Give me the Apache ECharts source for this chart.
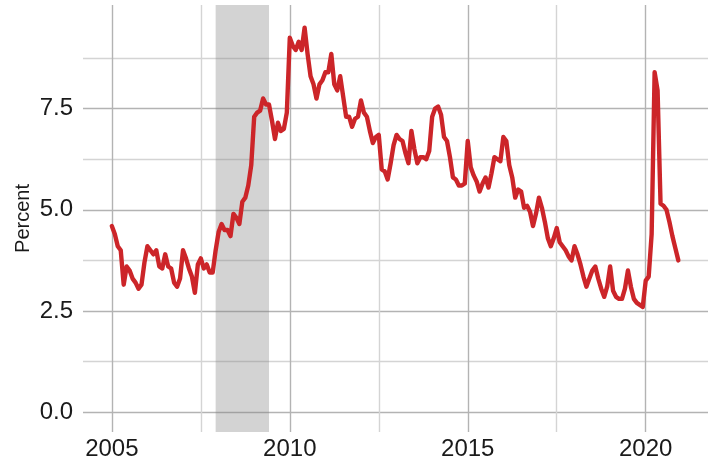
<!DOCTYPE html>
<html>
<head>
<meta charset="utf-8">
<script src="https://cdn.jsdelivr.net/npm/echarts@6/dist/echarts.min.js"></script>
<style>
  html, body { margin: 0; padding: 0; background: #fff; }
  #chart { width: 715px; height: 469px; }
</style>
</head>
<body>
<div id="chart"></div>
<script>
// monthly values, Jan 2005 .. Dec 2020
const startYear = 2005;
const rates = [
  4.6, 4.4, 4.1, 4.0, 3.15, 3.6, 3.5, 3.3, 3.2, 3.05, 3.15, 3.7,      // 2005
  4.1, 4.0, 3.9, 4.0, 3.6, 3.55, 3.9, 3.6, 3.55, 3.2, 3.1, 3.3,       // 2006
  4.0, 3.8, 3.55, 3.35, 2.95, 3.65, 3.8, 3.55, 3.65, 3.45, 3.45, 4.0, // 2007
  4.45, 4.65, 4.5, 4.5, 4.35, 4.9, 4.8, 4.65, 5.2, 5.3, 5.6, 6.1,     // 2008
  7.3, 7.4, 7.45, 7.75, 7.6, 7.6, 7.2, 6.75, 7.15, 6.95, 7.0, 7.4,    // 2009
  9.25, 9.05, 8.95, 9.15, 8.95, 9.5, 8.85, 8.3, 8.1, 7.75, 8.1, 8.2,  // 2010
  8.4, 8.4, 8.85, 8.1, 7.95, 8.3, 7.8, 7.3, 7.3, 7.05, 7.25, 7.3,     // 2011
  7.7, 7.4, 7.3, 6.95, 6.65, 6.8, 6.85, 6.0, 5.95, 5.75, 6.15, 6.6,   // 2012
  6.85, 6.75, 6.7, 6.4, 6.15, 6.95, 6.5, 6.15, 6.3, 6.3, 6.25, 6.45,  // 2013
  7.3, 7.5, 7.55, 7.35, 6.8, 6.7, 6.3, 5.8, 5.75, 5.6, 5.6, 5.65,     // 2014
  6.7, 6.05, 5.85, 5.7, 5.45, 5.65, 5.8, 5.55, 5.9, 6.3, 6.25, 6.2,   // 2015
  6.8, 6.7, 6.1, 5.8, 5.3, 5.5, 5.45, 5.05, 5.1, 4.95, 4.6, 4.9,      // 2016
  5.3, 5.05, 4.7, 4.3, 4.1, 4.3, 4.55, 4.2, 4.1, 4.0, 3.85, 3.75,     // 2017
  4.1, 3.9, 3.65, 3.35, 3.1, 3.3, 3.5, 3.6, 3.3, 3.05, 2.85, 3.1,     // 2018
  3.6, 3.0, 2.85, 2.8, 2.8, 3.05, 3.5, 3.1, 2.8, 2.7, 2.65, 2.6,      // 2019
  3.25, 3.35, 4.4, 8.4, 7.95, 5.15, 5.1, 5.0, 4.7, 4.35, 4.05, 3.75   // 2020
];
const recession = [2007 + 11 / 12, 2009 + 5 / 12]; // Dec 2007 - Jun 2009
const xMajorTicks = [2005, 2010, 2015, 2020];
const xMinorTicks = [2007.5, 2012.5, 2017.5];
const yMajorTicks = [0, 2.5, 5, 7.5];
const yMinorTicks = [1.25, 3.75, 6.25, 8.75];

const points = rates.map((v, i) => [startYear + i / 12, v]);

const chart = echarts.init(document.getElementById('chart'), null, { renderer: 'canvas' });
const font = 'Liberation Sans, Arial, sans-serif';
const xMin = 2004.19, xMax = 2021.75;
const yMin = -0.49, yMax = 10.06;

const option = {
  animation: false,
  grid: { left: 83, right: 7, top: 5, bottom: 37 },
  xAxis: [
    {
      type: 'value', min: xMin, max: xMax, position: 'bottom',
      axisLine: { show: false },
      axisTick: { show: false, customValues: xMajorTicks },
      axisLabel: {
        customValues: xMajorTicks, margin: 5,
        color: '#1a1a1a', fontSize: 24, fontFamily: font,
        formatter: v => String(Math.round(v))
      },
      splitLine: { show: true, lineStyle: { color: '#b3b3b3', width: 1.4 } }
    },
    {
      type: 'value', min: xMin, max: xMax, position: 'top',
      axisLine: { show: false },
      axisTick: { show: false, customValues: xMinorTicks },
      axisLabel: { show: false },
      splitLine: { show: true, lineStyle: { color: '#d4d4d4', width: 1.4 } }
    }
  ],
  yAxis: [
    {
      type: 'value', min: yMin, max: yMax, position: 'left',
      name: 'Percent', nameLocation: 'middle', nameGap: 50, nameMoveOverlap: false,
      nameTextStyle: { color: '#1a1a1a', fontSize: 20, fontFamily: font },
      axisLine: { show: false },
      axisTick: { show: false, customValues: yMajorTicks },
      axisLabel: {
        customValues: yMajorTicks, margin: 10,
        color: '#1a1a1a', fontSize: 24, fontFamily: font,
        formatter: v => v.toFixed(1)
      },
      splitLine: { show: true, lineStyle: { color: '#b3b3b3', width: 1.4 } }
    },
    {
      type: 'value', min: yMin, max: yMax, position: 'right',
      axisLine: { show: false },
      axisTick: { show: false, customValues: yMinorTicks },
      axisLabel: { show: false },
      splitLine: { show: true, lineStyle: { color: '#d4d4d4', width: 1.4 } }
    }
  ],
  series: [
    {
      // recession shading
      type: 'line', data: [], z: 1, silent: true,
      markArea: {
        silent: true,
        itemStyle: { color: 'rgba(128,128,128,0.35)' },
        data: [[{ xAxis: recession[0] }, { xAxis: recession[1] }]]
      }
    },
    {
      type: 'line', data: points, z: 3,
      showSymbol: false, symbol: 'none',
      lineStyle: { color: '#cc2529', width: 4.4, join: 'round', cap: 'round' }
    }
  ]
};
chart.setOption(option);
</script>
</body>
</html>
